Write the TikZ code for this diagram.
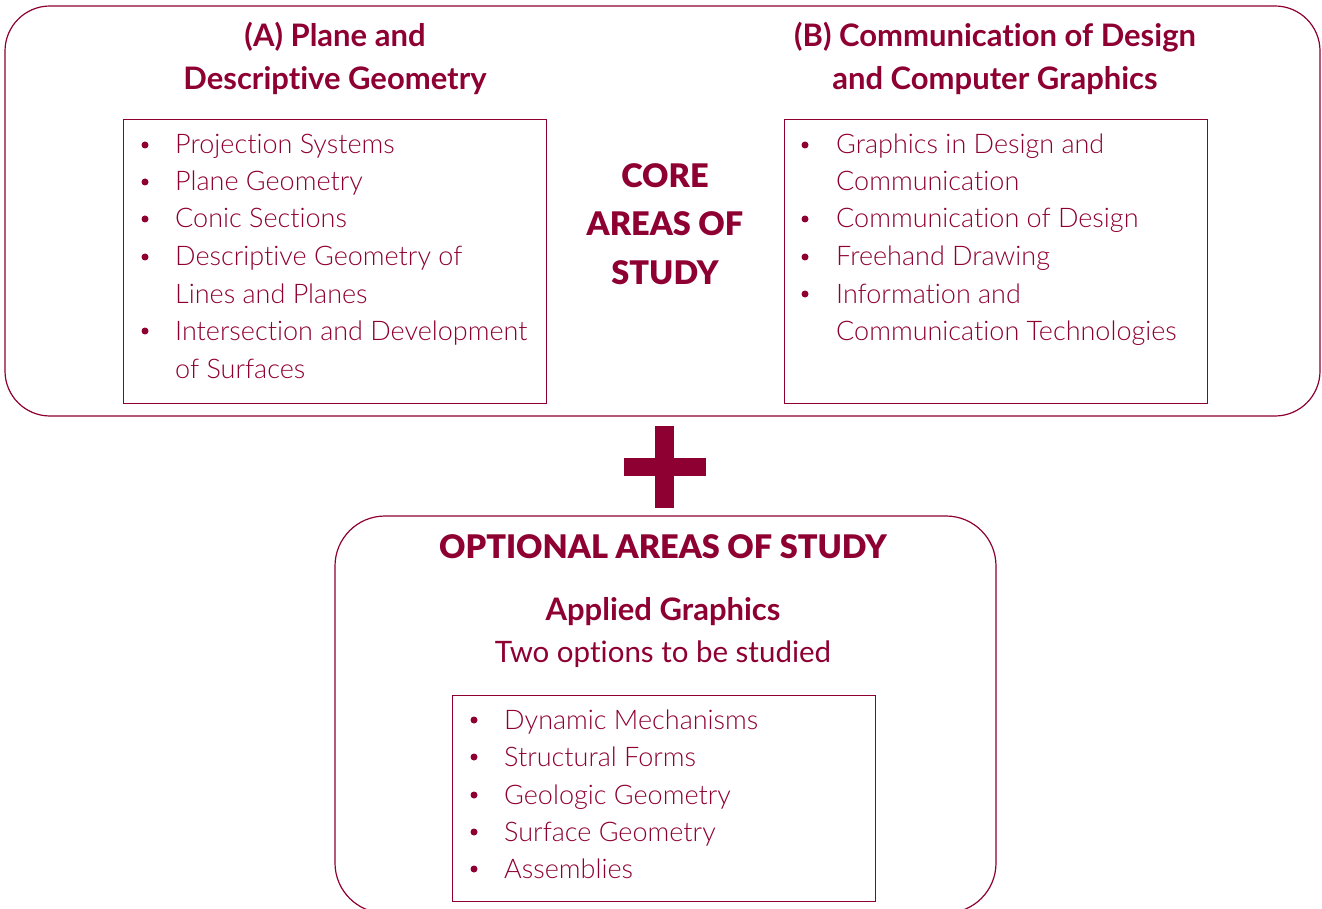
\documentclass[tikz,border=0pt]{standalone}
\usepackage{fontspec}
\setmainfont{Lato}[Ligatures=NoCommon]
\newfontfamily\lightfont{Lato Light}[Ligatures=NoCommon]
\newfontfamily\heavyfont{Lato Black}[Ligatures=NoCommon]
\definecolor{crim}{HTML}{8E0032}
\begin{document}
\begin{tikzpicture}[x=1pt,y=-1pt,
  frame/.style={draw=crim, line width=1.2pt, rounded corners=45pt},
  listbox/.style={draw=crim, line width=1.0pt},
  itemtext/.style={anchor=base west, inner sep=0pt, text=crim, font=\lightfont\fontsize{27}{32}\selectfont},
  dot/.style={circle, fill=crim, inner sep=0pt, minimum size=7pt},
  title/.style={anchor=base, inner sep=0pt, text=crim, font=\bfseries\fontsize{31}{36}\selectfont},
  heavy/.style={anchor=base, inner sep=0pt, text=crim, font=\heavyfont\fontsize{32.5}{38}\selectfont},
  plain/.style={anchor=base, inner sep=0pt, text=crim, font=\fontsize{29.5}{35}\selectfont},
]
\useasboundingbox (0,0) rectangle (1322,909);

% core frame
\draw[frame] (5,6) rectangle (1320,416);
\node[title] (tA1) at (335,47) {(A) Plane and};
\node[title] (tA2) at (335,90) {Descriptive Geometry};
\node[title] (tB1) at (995,47) {(B) Communication of Design};
\node[title] (tB2) at (995,90) {and Computer Graphics};

\draw[listbox] (123,120) rectangle (546,403);
\draw[listbox] (784,120) rectangle (1207,403);

\node[heavy] (c1) at (665,188) {CORE};
\node[heavy] (c2) at (665,236) {AREAS OF};
\node[heavy] (c3) at (665,284) {STUDY};

% left list
\node[dot] (la) at (145,145) {};
\node[itemtext] (lt1) at (175,154) {Projection Systems};
\node[dot] (lb) at (145,182) {};
\node[itemtext] (lt2) at (175,191) {Plane Geometry};
\node[dot] (lc) at (145,219) {};
\node[itemtext] (lt3) at (175,228) {Conic Sections};
\node[dot] (ld) at (145,257) {};
\node[itemtext] (lt4) at (175,266) {Descriptive Geometry of};
\node[itemtext] (lt5) at (175,303) {Lines and Planes};
\node[dot] (le) at (145,331) {};
\node[itemtext] (lt6) at (175,340) {Intersection and Development};
\node[itemtext] (lt7) at (175,378) {of Surfaces};

% right list
\node[dot] (ra) at (805,145) {};
\node[itemtext] (rt1) at (836,154) {Graphics in Design and};
\node[itemtext] (rt2) at (836,191) {Communication};
\node[dot] (rb) at (805,219) {};
\node[itemtext] (rt3) at (836,228) {Communication of Design};
\node[dot] (rc) at (805,257) {};
\node[itemtext] (rt4) at (836,266) {Freehand Drawing};
\node[dot] (rd) at (805,294) {};
\node[itemtext] (rt5) at (836,303) {Information and};
\node[itemtext] (rt6) at (836,340) {Communication Technologies};

% plus
\fill[crim] (655,426) rectangle (674,508);
\fill[crim] (624,458) rectangle (706,476);

% optional frame
\draw[frame, rounded corners=50pt] (335,516) rectangle (996,913);
\node[heavy] (o1) at (663,558) {OPTIONAL AREAS OF STUDY};
\node[title] (o2) at (663,620) {Applied Graphics};
\node[plain] (o3) at (663,662) {Two options to be studied};

\draw[listbox] (452,695) rectangle (875,901);
\node[dot] (ba) at (474,720) {};
\node[itemtext] (bt1) at (504,729) {Dynamic Mechanisms};
\node[dot] (bb) at (474,757) {};
\node[itemtext] (bt2) at (504,766) {Structural Forms};
\node[dot] (bc) at (474,795) {};
\node[itemtext] (bt3) at (504,804) {Geologic Geometry};
\node[dot] (bd) at (474,832) {};
\node[itemtext] (bt4) at (504,841) {Surface Geometry};
\node[dot] (be) at (474,869) {};
\node[itemtext] (bt5) at (504,878) {Assemblies};
\end{tikzpicture}
\end{document}
